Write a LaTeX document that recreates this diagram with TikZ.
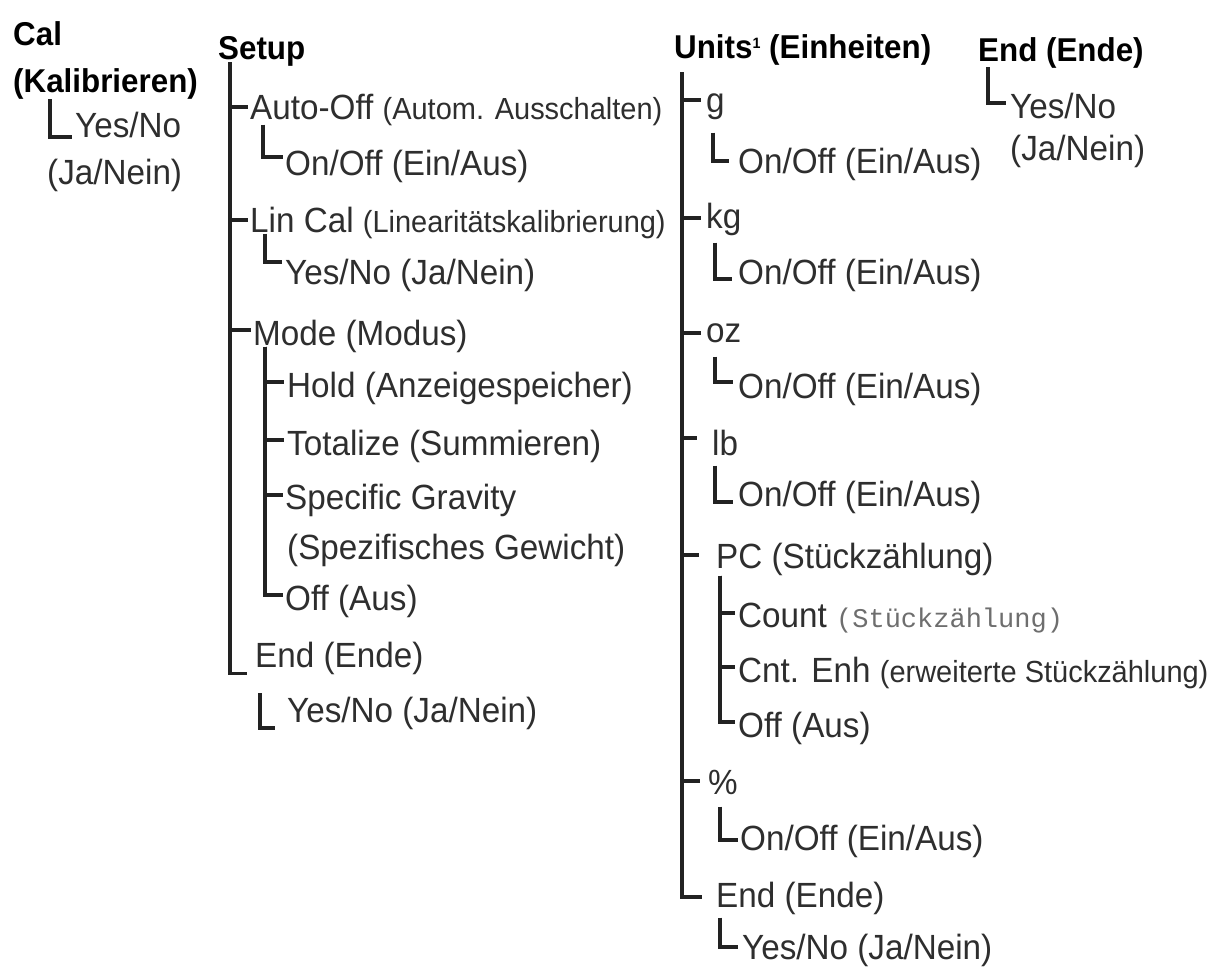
\documentclass[tikz,border=0pt]{standalone}
\usepackage{fontspec}
\newfontfamily\rf[FakeStretch=0.95]{Liberation Sans}
\newfontfamily\mf{Liberation Mono}
\definecolor{txt}{HTML}{2E2E2E}
\definecolor{lnc}{HTML}{222222}
\definecolor{monoc}{HTML}{6E6E6E}
\newcommand\smtxt[1]{{\fontsize{30.5}{34}\selectfont #1}}
\newcommand\monotxt[1]{{\mf\fontsize{27}{32}\selectfont\textcolor{monoc}{#1}}}
\newcommand\supone{\raisebox{10pt}{\fontsize{15}{15}\selectfont 1}}
\tikzset{
  rt/.style={anchor=west, inner sep=0pt, text height=25pt, text depth=0pt,
             font=\rf\fontsize{35}{40}\selectfont, text=txt},
  bt/.style={anchor=west, inner sep=0pt, text height=23.6pt, text depth=0pt,
             font=\rf\bfseries\fontsize{33}{38}\selectfont, text=black},
  ln/.style={line width=3.3pt, draw=lnc}
}
\begin{document}
\begin{tikzpicture}[x=1pt,y=-1pt]
\useasboundingbox[fill=white] (0,0) rectangle (1220,967);

% ---------- Cal ----------
\node[bt] (cal) at (13,34) {Cal};
\node[bt] (kal) at (13,81) {(Kalibrieren)};
\node[rt] (calyes) at (75,125) {Yes/No};
\node[rt] (calja) at (47,172) {(Ja/Nein)};
\draw[ln] ([xshift=37pt,yshift=-6pt]kal.south west) |- ([xshift=-3pt,yshift=-12pt]calyes.west);

% ---------- Setup ----------
\node[bt] (setup) at (218,48) {Setup};
\coordinate (stop) at ([xshift=12pt,yshift=-2pt]setup.south west);
\node[rt] (autooff) at (250,107) {Auto-Off \smtxt{(Autom. Ausschalten)}};
\node[rt] (aoonoff) at (285,163) {On/Off (Ein/Aus)};
\node[rt] (lincal) at (250,220) {Lin Cal \smtxt{(Linearitätskalibrierung)}};
\node[rt] (lcyes) at (285,272) {Yes/No (Ja/Nein)};
\node[rt] (mode) at (253,333) {Mode (Modus)};
\node[rt] (hold) at (287,385) {Hold (Anzeigespeicher)};
\node[rt] (total) at (287,443) {Totalize (Summieren)};
\node[rt] (spec) at (285,497) {Specific Gravity};
\node[rt] (spec2) at (287,547) {(Spezifisches Gewicht)};
\node[rt] (moff) at (285,598) {Off (Aus)};
\node[rt] (send) at (255,655) {End (Ende)};
\node[rt] (syes) at (287,710) {Yes/No (Ja/Nein)};

\draw[ln] (stop) |- ([xshift=-2pt]autooff.west);
\draw[ln] (stop) |- ([xshift=-2pt]lincal.west);
\draw[ln] (stop) |- ([xshift=-2pt,yshift=3pt]mode.west);
\draw[ln] (stop) |- ([xshift=-8pt,yshift=-6pt]send.south west);
\draw[ln] ([xshift=13pt,yshift=-5pt]autooff.south west) |- ([xshift=-2pt,yshift=6pt]aoonoff.west);
\draw[ln] ([xshift=15pt,yshift=-1pt]lincal.south west) |- ([xshift=-3pt,yshift=10pt]lcyes.west);
\coordinate (mstop) at ([xshift=12pt,yshift=-1pt]mode.south west);
\draw[ln] (mstop) |- ([xshift=-3pt,yshift=3pt]hold.west);
\draw[ln] (mstop) |- ([xshift=-3pt,yshift=3pt]total.west);
\draw[ln] (mstop) |- ([xshift=-2pt,yshift=2pt]spec.west);
\draw[ln] (mstop) |- ([xshift=-2pt,yshift=3pt]moff.west);
\draw[ln] ([xshift=-27pt,yshift=17pt]syes.west) |- ([xshift=-12pt,yshift=-18pt]syes.west);

% ---------- Units ----------
\node[bt] (units) at (674,47) {Units\supone\ (Einheiten)};
\coordinate (utop) at ([xshift=8pt,yshift=-13pt]units.south west);
\node[rt] (g) at (706,100) {g};
\node[rt] (gon) at (738,161) {On/Off (Ein/Aus)};
\node[rt] (kg) at (706,216) {kg};
\node[rt] (kgon) at (738,272) {On/Off (Ein/Aus)};
\node[rt] (oz) at (706,330) {oz};
\node[rt] (ozon) at (738,386) {On/Off (Ein/Aus)};
\node[rt] (lb) at (712,443) {lb};
\node[rt] (lbon) at (738,494) {On/Off (Ein/Aus)};
\node[rt] (pc) at (716,556) {PC (Stückzählung)};
\node[rt] (count) at (738,615) {Count \monotxt{(Stückzählung)}};
\node[rt] (cnt) at (738,670) {Cnt. Enh \smtxt{(erweiterte Stückzählung)}};
\node[rt] (poff) at (738,725) {Off (Aus)};
\node[rt] (pct) at (708,782) {\%};
\node[rt] (pcton) at (740,838) {On/Off (Ein/Aus)};
\node[rt] (uend) at (716,895) {End (Ende)};
\node[rt] (ueyes) at (742,947) {Yes/No (Ja/Nein)};

\draw[ln] (utop) |- ([xshift=-5pt]g.west);
\draw[ln] (utop) |- ([xshift=-5pt,yshift=-2pt]kg.west);
\draw[ln] (utop) |- ([xshift=-5pt,yshift=-3pt]oz.west);
\draw[ln] (utop) |- ([xshift=-15pt,yshift=5pt]lb.west);
\draw[ln] (utop) |- ([xshift=-17pt,yshift=1pt]pc.west);
\draw[ln] (utop) |- ([xshift=-8pt,yshift=1pt]pct.west);
\draw[ln] (utop) |- ([xshift=-14pt,yshift=-2pt]uend.west);

\draw[ln] ([xshift=7pt,yshift=-20pt]g.south west) |- ([xshift=-9pt]gon.west);
\draw[ln] ([xshift=9pt,yshift=-14pt]kg.south west) |- ([xshift=-6pt,yshift=-7pt]kgon.west);
\draw[ln] ([xshift=9pt,yshift=-14pt]oz.south west) |- ([xshift=-5pt,yshift=4pt]ozon.west);
\draw[ln] ([xshift=3pt,yshift=-10pt]lb.south west) |- ([xshift=-5pt,yshift=-8pt]lbon.west);

\coordinate (pstop) at ([xshift=4pt,yshift=-7pt]pc.south west);
\draw[ln] (pstop) |- ([xshift=-3pt,yshift=2pt]count.west);
\draw[ln] (pstop) |- ([xshift=-3pt,yshift=3pt]cnt.west);
\draw[ln] (pstop) |- ([xshift=-3pt,yshift=3pt]poff.west);

\draw[ln] ([xshift=12pt,yshift=-12pt]pct.south west) |- ([xshift=-2pt,yshift=-2pt]pcton.west);
\draw[ln] ([xshift=4pt,yshift=-10pt]uend.south west) |- ([xshift=-4pt]ueyes.west);

% ---------- End ----------
\node[bt] (rend) at (978,50) {End (Ende)};
\node[rt] (ryes) at (1010,106) {Yes/No};
\node[rt] (rja) at (1010,148) {(Ja/Nein)};
\draw[ln] ([xshift=10pt,yshift=-5pt]rend.south west) |- ([xshift=-4pt,yshift=3pt]ryes.west);
\end{tikzpicture}
\end{document}
